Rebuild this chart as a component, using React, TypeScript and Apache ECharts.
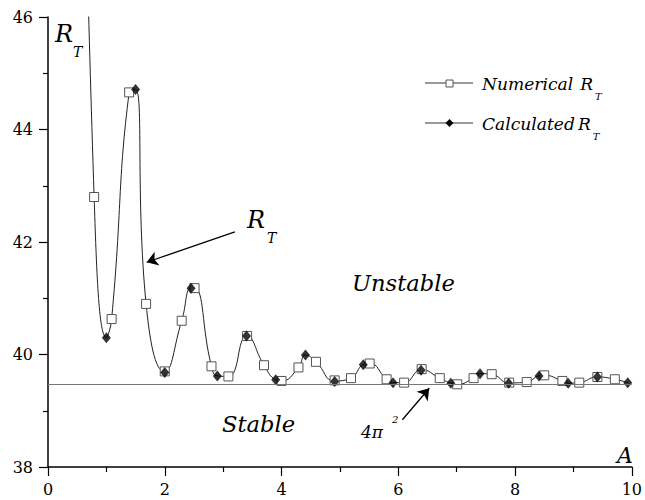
import React, { useEffect, useRef } from "react";
import * as echarts from "echarts";

// Numerical R_T (open squares)
const numericalA = [0.79, 1.09, 1.39, 1.68, 2.0, 2.29, 2.51, 2.8, 3.09, 3.41, 3.7, 4.0, 4.29, 4.59, 4.91, 5.19, 5.51, 5.8, 6.1, 6.4, 6.71, 7.01, 7.29, 7.6, 7.9, 8.2, 8.5, 8.81, 9.1, 9.41, 9.71];
const numericalRT = [42.8, 40.63, 44.66, 40.9, 39.7, 40.6, 41.18, 39.79, 39.61, 40.33, 39.81, 39.53, 39.77, 39.87, 39.54, 39.58, 39.84, 39.56, 39.5, 39.74, 39.58, 39.47, 39.58, 39.65, 39.5, 39.51, 39.63, 39.53, 39.5, 39.6, 39.56];

// Calculated R_T (filled diamonds); the first one lies above the plotted range
const calculatedA = [0.5, 1.0, 1.5, 2.0, 2.45, 2.9, 3.4, 3.9, 4.41, 4.91, 5.4, 5.91, 6.39, 6.9, 7.4, 7.89, 8.41, 8.91, 9.41, 9.93];
const calculatedRT = [56, 40.3, 44.71, 39.68, 41.18, 39.62, 40.33, 39.55, 39.99, 39.52, 39.82, 39.5, 39.72, 39.49, 39.66, 39.49, 39.62, 39.49, 39.6, 39.5];

const FOUR_PI_SQ = 4 * Math.PI * Math.PI;

// annotation arrows, [tail, head] in data coordinates
const rtArrow = [[3.2, 42.18], [1.69, 41.64]];
const piArrow = [[6.07, 38.84], [6.53, 39.4]];

const FONT = "DejaVu Serif";

function measure(text: string, size: number, italic = true) {
  const c = document.createElement("canvas").getContext("2d");
  if (!c) return text.length * size * 0.55;
  c.font = `${italic ? "italic " : ""}${size}px ${FONT}`;
  return c.measureText(text).width;
}

function txt(text: string, x: number, y: number, size: number, align: string = "left", italic = true) {
  return {
    type: "text",
    x,
    y,
    silent: true,
    style: {
      text,
      font: `${italic ? "italic " : ""}${size}px ${FONT}`,
      fill: "#000",
      textAlign: align,
      textVerticalAlign: "middle",
    },
  };
}

export default function App() {
  const ref = useRef<HTMLDivElement>(null);
  useEffect(() => {
    const chart = echarts.init(ref.current!, null, { renderer: "svg" });
    const num = numericalA.map((a, i) => [a, numericalRT[i]]);
    const calc = calculatedA.map((a, i) => [a, calculatedRT[i]]);
    const merged = [...num, ...calc].sort((p, q) => p[0] - q[0]);
    const curve: number[][] = [];
    for (const p of merged) {
      const last = curve[curve.length - 1];
      if (last && Math.abs(p[0] - last[0]) < 0.03) {
        last[0] = (last[0] + p[0]) / 2;
        last[1] = (last[1] + p[1]) / 2;
      } else curve.push([p[0], p[1]]);
    }

    // legend font size fitted so that "Calculated" spans ~93px as in the reference
    const legSize = Math.min(18, Math.round(18 * 93 / measure("Calculated", 18) * 10) / 10);
    const unstSize = Math.min(24, Math.round(24 * 103 / measure("Unstable", 24) * 10) / 10);
    const stSize = Math.min(24, Math.round(24 * 73 / measure("Stable", 24) * 10) / 10);
    const rNum = Math.max(577, 482 + measure("Numerical", legSize) + 7);
    const rCal = Math.max(577, 482 + measure("Calculated", legSize) + 3);
    const rW = measure("R", legSize);

    const axisCommon = {
      type: "value",
      interval: 2,
      axisLine: { show: true, onZero: false, lineStyle: { color: "#000", width: 1.5 } },
      axisTick: { show: true, length: 9, lineStyle: { color: "#000", width: 1.2 } },
      minorTick: { show: true, splitNumber: 2, length: 5, lineStyle: { color: "#000", width: 1.2 } },
      splitLine: { show: false },
      minorSplitLine: { show: false },
    };

    const option: any = {
      animation: false,
      backgroundColor: "#fff",
      textStyle: { fontFamily: FONT },
      grid: { left: 48, right: 12, top: 17, bottom: 33 },
      xAxis: {
        ...axisCommon,
        min: 0,
        max: 10,
        axisLabel: { margin: 14, color: "#000", fontSize: 16, fontFamily: FONT },
      },
      yAxis: {
        ...axisCommon,
        min: 38,
        max: 46,
        axisLabel: { margin: 15, color: "#000", fontSize: 16, fontFamily: FONT },
      },
      series: [
        {
          name: "curve",
          type: "line",
          data: curve,
          smooth: 0.5,
          showSymbol: false,
          silent: true,
          z: 2,
          lineStyle: { color: "#222", width: 1 },
          markLine: {
            silent: true,
            symbol: "none",
            label: { show: false },
            lineStyle: { color: "#777", width: 1, type: "solid" },
            data: [{ yAxis: FOUR_PI_SQ }],
          },
        },
        {
          name: "Numerical R_T",
          type: "scatter",
          data: num,
          symbol: "rect",
          symbolSize: 9,
          silent: true,
          z: 3,
          itemStyle: { color: "#fff", borderColor: "#555", borderWidth: 1, opacity: 1 },
          markLine: {
            silent: true,
            symbol: ["none", "arrow"],
            symbolSize: 11,
            label: { show: false },
            lineStyle: { color: "#000", width: 1.3, type: "solid" },
            data: [
              [{ coord: rtArrow[0] }, { coord: rtArrow[1] }],
              [{ coord: piArrow[0] }, { coord: piArrow[1] }],
            ],
          },
        },
        {
          name: "Calculated R_T",
          type: "scatter",
          data: calc,
          symbol: "diamond",
          symbolSize: [9, 11],
          silent: true,
          z: 4,
          itemStyle: { color: "#000" },
        },
      ],
      graphic: [
        // axis titles
        txt("R", 55, 34, 24),
        txt("T", 73, 52, 14),
        txt("A", 633, 455, 22, "right"),
        // annotations
        txt("R", 247, 220, 24),
        txt("T", 267, 238, 14),
        txt("Unstable", 352, 283, unstSize),
        txt("Stable", 222, 424, stSize),
        txt("4π", 361, 432, 17),
        txt("2", 392, 419, 10),
        // legend
        { type: "line", silent: true, shape: { x1: 425, y1: 83, x2: 473, y2: 83 }, style: { stroke: "#333", lineWidth: 1 } },
        { type: "rect", silent: true, shape: { x: 446, y: 80, width: 7, height: 7 }, style: { fill: "#fff", stroke: "#555", lineWidth: 1 } },
        txt("Numerical", 482, 84, legSize),
        txt("R", rNum, 84, legSize),
        txt("T", rNum + rW + 2, 96, 10),
        { type: "line", silent: true, shape: { x1: 425, y1: 123, x2: 473, y2: 123 }, style: { stroke: "#333", lineWidth: 1 } },
        { type: "polygon", silent: true, shape: { points: [[449.5, 119], [453.5, 123], [449.5, 127], [445.5, 123]] }, style: { fill: "#000" } },
        txt("Calculated", 482, 124, legSize),
        txt("R", rCal, 124, legSize),
        txt("T", rCal + rW + 2, 136, 10),
      ],
    };
    chart.setOption(option);
    return () => chart.dispose();
  }, []);
  return (
    <div
      ref={ref}
      style={{ position: "absolute", left: 0, top: 0, width: 645, height: 500, background: "#fff" }}
    />
  );
}
